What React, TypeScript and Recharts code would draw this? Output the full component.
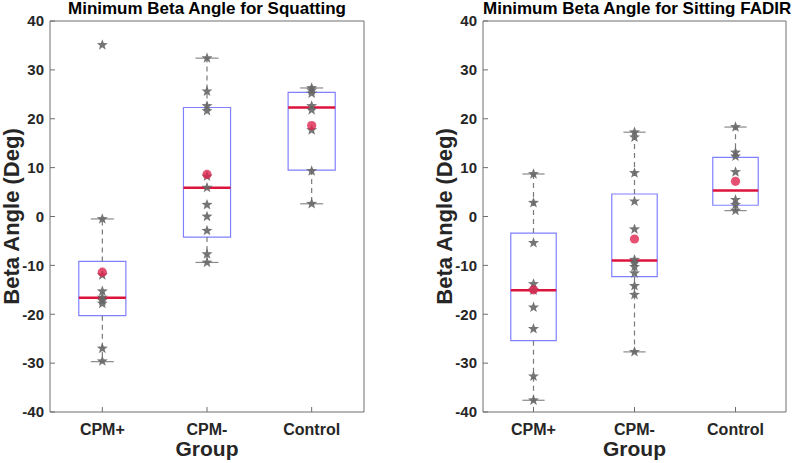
import { ComposedChart, XAxis, YAxis, Scatter, ReferenceArea, ReferenceLine } from 'recharts';

const GROUPS = ['CPM+', 'CPM-', 'Control'];
const Y_TICKS = [-40, -30, -20, -10, 0, 10, 20, 30, 40];

// Squatting panel
const SQUAT_POINTS = [
  [35.1, -0.5, -12.0, -15.3, -16.6, -17.2, -17.8, -27.0, -29.6],
  [32.4, 25.6, 22.6, 21.6, 8.2, 5.9, 2.4, 0, -2.9, -7.7, -9.4],
  [26.3, 25.8, 25.2, 22.6, 21.8, 17.7, 9.3, 2.6],
];
const SQUAT_Q1 = [-20.3, -4.2, 9.5];
const SQUAT_MEDIAN = [-16.6, 5.9, 22.3];
const SQUAT_Q3 = [-9.2, 22.3, 25.4];
const SQUAT_LOW = [-29.7, -9.4, 2.6];
const SQUAT_HIGH = [-0.5, 32.4, 26.3];
const SQUAT_MEAN = [-11.4, 8.6, 18.6];

// Sitting FADIR panel
const SIT_POINTS = [
  [8.7, 2.8, -5.4, -13.8, -15.1, -18.6, -23.0, -32.7, -37.6],
  [17.25, 16.2, 8.9, 3.1, -2.6, -8.85, -9.5, -10.3, -11.6, -14.2, -16.0, -27.7],
  [18.3, 13.1, 12.3, 9.1, 3.4, 2.4, 1.2],
];
const SIT_Q1 = [-25.4, -12.3, 2.3];
const SIT_MEDIAN = [-15.1, -9.0, 5.3];
const SIT_Q3 = [-3.4, 4.6, 12.1];
const SIT_LOW = [-37.6, -27.7, 1.2];
const SIT_HIGH = [8.7, 17.25, 18.3];
const SIT_MEAN = [-15.0, -4.6, 7.2];

const BOX_HALF = 0.225;
const CAP_HALF = 0.11;
const FONT = '"Liberation Sans", Arial, sans-serif';

function starPath(cx: number, cy: number, R: number, r: number) {
  let d = '';
  for (let i = 0; i < 10; i++) {
    const a = (-90 + i * 36) * Math.PI / 180;
    const rad = i % 2 === 0 ? R : r;
    d += (i === 0 ? 'M' : 'L') + (cx + rad * Math.cos(a)).toFixed(2) + ',' + (cy + rad * Math.sin(a)).toFixed(2);
  }
  return d + 'Z';
}

const StarShape = (props: any) => {
  const { cx, cy } = props;
  if (cx == null || cy == null) return <g />;
  return <path d={starPath(cx, cy, 5.8, 2.4)} fill="#666666" fillOpacity={0.9} />;
};

const MeanShape = (props: any) => {
  const { cx, cy } = props;
  if (cx == null || cy == null) return <g />;
  return <circle cx={cx} cy={cy} r={4.6} fill="#e0244f" fillOpacity={0.8} />;
};

interface PanelProps {
  title: string;
  points: number[][];
  q1: number[];
  median: number[];
  q3: number[];
  low: number[];
  high: number[];
  mean: number[];
  width: number;
  marginLeft: number;
  marginRight: number;
}

function BoxPanel(p: PanelProps) {
  const pts = p.points.flatMap((vals, i) => vals.map(v => ({ x: i + 1, y: v })));
  const means = p.mean.map((v, i) => ({ x: i + 1, y: v }));
  const axisStroke = '#6e6e6e';
  const tickStyle = { fontFamily: FONT, fontWeight: 700, fill: '#262626' };

  return (
    <div style={{ position: 'relative', width: p.width, height: 463 }}>
      <div
        style={{
          position: 'absolute',
          top: 0,
          left: p.marginLeft + 50,
          width: p.width - p.marginLeft - 50 - p.marginRight - 1,
          textAlign: 'center',
          fontFamily: FONT,
          fontWeight: 700,
          fontSize: 17,
          lineHeight: '18px',
          color: '#000',
          whiteSpace: 'nowrap',
        }}
      >
        {p.title}
      </div>
      <ComposedChart
        width={p.width}
        height={463}
        margin={{ top: 20, right: p.marginRight, bottom: 0, left: p.marginLeft }}
      >
        <XAxis
          dataKey="x"
          type="number"
          domain={[0.5, 3.5]}
          ticks={[1, 2, 3]}
          tickFormatter={(v: number) => GROUPS[v - 1]}
          height={51}
          tickSize={-5}
          tickMargin={17}
          stroke={axisStroke}
          tick={{ ...tickStyle, fontSize: 16 }}
          label={{ value: 'Group', position: 'insideBottom', offset: 7, style: { fontFamily: FONT, fontWeight: 700, fontSize: 21, fill: '#262626' } }}
        />
        <XAxis
          xAxisId="top"
          orientation="top"
          dataKey="x"
          type="number"
          domain={[0.5, 3.5]}
          ticks={[1, 2, 3]}
          tickFormatter={() => ''}
          height={1}
          tickSize={-5}
          stroke={axisStroke}
        />
        <YAxis
          type="number"
          domain={[-40, 40]}
          ticks={Y_TICKS}
          width={50}
          tickSize={-5}
          tickMargin={11}
          stroke={axisStroke}
          tick={{ ...tickStyle, fontSize: 15 }}
          label={{ value: 'Beta Angle (Deg)', angle: -90, position: 'insideLeft', offset: 11, style: { textAnchor: 'middle', fontFamily: FONT, fontWeight: 700, fontSize: 22, fill: '#262626' } }}
        />
        <YAxis
          yAxisId="right"
          orientation="right"
          type="number"
          domain={[-40, 40]}
          ticks={Y_TICKS}
          width={1}
          tickSize={-5}
          tickFormatter={() => ''}
          stroke={axisStroke}
        />
        {GROUPS.map((g, i) => (
          <ReferenceArea
            key={'box' + g}
            x1={i + 1 - BOX_HALF}
            x2={i + 1 + BOX_HALF}
            y1={p.q1[i]}
            y2={p.q3[i]}
            fill="#ffffff"
            fillOpacity={0}
            stroke="#8080ff"
            strokeWidth={1.2}
          />
        ))}
        {GROUPS.map((g, i) => (
          <ReferenceLine
            key={'wu' + g}
            segment={[{ x: i + 1, y: p.q3[i] }, { x: i + 1, y: p.high[i] }]}
            stroke="#7a7a7a"
            strokeWidth={1.2}
            strokeDasharray="5 4"
          />
        ))}
        {GROUPS.map((g, i) => (
          <ReferenceLine
            key={'wl' + g}
            segment={[{ x: i + 1, y: p.q1[i] }, { x: i + 1, y: p.low[i] }]}
            stroke="#7a7a7a"
            strokeWidth={1.2}
            strokeDasharray="5 4"
          />
        ))}
        {GROUPS.map((g, i) => (
          <ReferenceLine
            key={'cu' + g}
            segment={[{ x: i + 1 - CAP_HALF, y: p.high[i] }, { x: i + 1 + CAP_HALF, y: p.high[i] }]}
            stroke="#8a8a8a"
            strokeWidth={1.2}
          />
        ))}
        {GROUPS.map((g, i) => (
          <ReferenceLine
            key={'cl' + g}
            segment={[{ x: i + 1 - CAP_HALF, y: p.low[i] }, { x: i + 1 + CAP_HALF, y: p.low[i] }]}
            stroke="#8a8a8a"
            strokeWidth={1.2}
          />
        ))}
        {GROUPS.map((g, i) => (
          <ReferenceLine
            key={'med' + g}
            segment={[{ x: i + 1 - BOX_HALF, y: p.median[i] }, { x: i + 1 + BOX_HALF, y: p.median[i] }]}
            stroke="#dc143c"
            strokeWidth={2.5}
          />
        ))}
        <Scatter data={pts} dataKey="y" shape={StarShape} isAnimationActive={false} />
        <Scatter data={means} dataKey="y" shape={MeanShape} isAnimationActive={false} />
      </ComposedChart>
    </div>
  );
}

export default function App() {
  return (
    <div style={{ position: 'absolute', left: 0, top: 0, width: 795, height: 463, display: 'flex', background: '#fff' }}>
      <BoxPanel
        title="Minimum Beta Angle for Squatting"
        points={SQUAT_POINTS}
        q1={SQUAT_Q1}
        median={SQUAT_MEDIAN}
        q3={SQUAT_Q3}
        low={SQUAT_LOW}
        high={SQUAT_HIGH}
        mean={SQUAT_MEAN}
        width={400}
        marginLeft={0}
        marginRight={35}
      />
      <BoxPanel
        title="Minimum Beta Angle for Sitting FADIR"
        points={SIT_POINTS}
        q1={SIT_Q1}
        median={SIT_MEDIAN}
        q3={SIT_Q3}
        low={SIT_LOW}
        high={SIT_HIGH}
        mean={SIT_MEAN}
        width={395}
        marginLeft={33}
        marginRight={8}
      />
    </div>
  );
}
